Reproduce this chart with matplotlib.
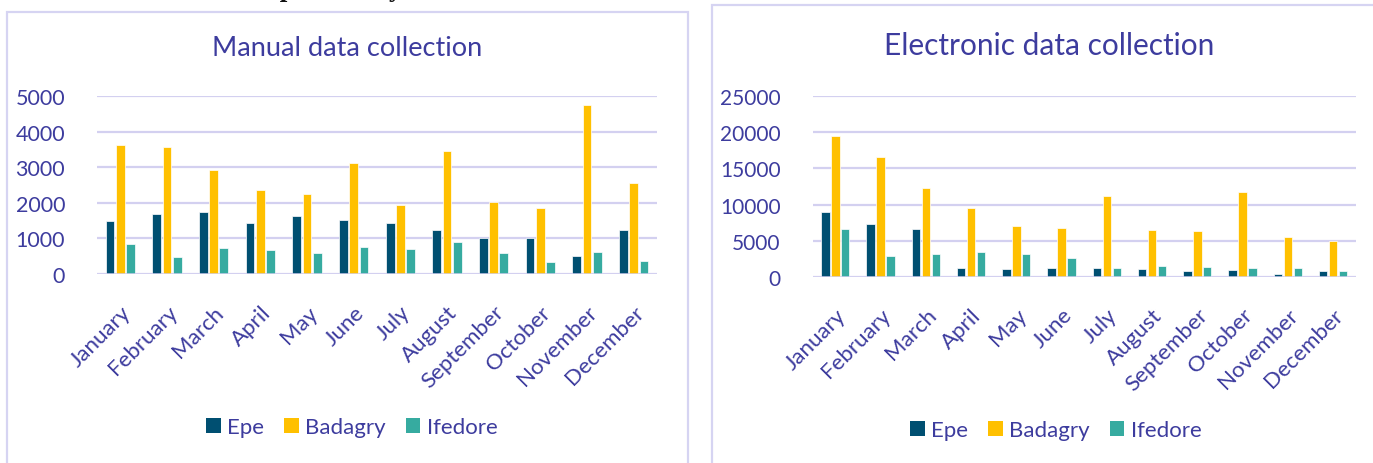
import numpy as np
import matplotlib
matplotlib.use("Agg")
import matplotlib.pyplot as plt
from matplotlib.patches import Rectangle, Patch

months = ["January", "February", "March", "April", "May", "June", "July",
          "August", "September", "October", "November", "December"]
sites = ["Epe", "Badagry", "Ifedore"]

# manual collection counts per month
manual_epe = [1500, 1690, 1740, 1440, 1630, 1520, 1440, 1240, 1010, 1015, 510, 1230]
manual_badagry = [3610, 3570, 2910, 2350, 2245, 3130, 1925, 3445, 2020, 1860, 4750, 2565]
manual_ifedore = [855, 470, 735, 675, 585, 750, 695, 890, 585, 350, 610, 375]

# electronic collection counts per month
elec_epe = [8900, 7260, 6570, 1210, 1070, 1210, 1150, 1070, 750, 930, 420, 750]
elec_badagry = [19500, 16620, 12290, 9520, 7020, 6750, 11220, 6470, 6290, 11690, 5540, 4900]
elec_ifedore = [6610, 2910, 3100, 3460, 3100, 2590, 1210, 1440, 1340, 1250, 1250, 790]

colors = ["#004f71", "#ffc000", "#36aba0"]
txt = "#3d3c9e"
grid_c = "#d3d0f0"
frame_c = "#d6d4f2"

plt.rcParams["font.family"] = ["Lato", "DejaVu Sans"]

fig = plt.figure(figsize=(13.73, 4.64), dpi=100)
W, H = 1373, 464


def fx(px):
    return px / W


def fy(py):
    return 1 - py / H


# panel frames
fig.patches.append(Rectangle((fx(7), fy(470)), fx(681), fy(13) - fy(470),
                             transform=fig.transFigure, fill=False,
                             edgecolor=frame_c, lw=1.6))
fig.patches.append(Rectangle((fx(712), fy(470)), fx(670), fy(6) - fy(470),
                             transform=fig.transFigure, fill=False,
                             edgecolor=frame_c, lw=1.6))

# heading from the page above, mostly cut off
fig.text(fx(224), fy(-4), "Comparison by", fontfamily="Liberation Serif",
         fontweight="bold", fontsize=19.5, va="baseline", ha="left", color="#111111")


def panel(rect, data, ymax, step, title, title_size, title_xy, leg_xy, barw, ysize):
    ax = fig.add_axes(rect)
    x = np.arange(len(months))
    offs = [-0.22, 0, 0.22]
    for i, vals in enumerate(data):
        ax.bar(x + offs[i], vals, width=barw, color=colors[i],
               edgecolor="white", linewidth=0.5, zorder=3, label=sites[i])
    ax.set_xlim(-0.5, len(months) - 0.5)
    ax.set_ylim(0, ymax)
    ax.set_yticks(np.arange(0, ymax + 1, step))
    ax.grid(axis="y", color=grid_c, lw=1.6, zorder=0)
    ax.axhline(0, color=grid_c, lw=1.8, zorder=4)
    for s in ax.spines.values():
        s.set_visible(False)
    ax.tick_params(axis="both", length=0, colors=txt)
    ax.tick_params(axis="y", pad=23, labelsize=ysize)
    ax.tick_params(axis="x", pad=20, labelsize=16)
    ax.set_xticks(x)
    ax.set_xticklabels(months, rotation=45, ha="right", va="top",
                       rotation_mode="anchor")
    fig.text(title_xy[0], title_xy[1], title, ha="center", va="center",
             fontsize=title_size, color=txt)
    handles = [Patch(facecolor=c, label=s) for c, s in zip(colors, sites)]
    fig.legend(handles=handles, loc="center", bbox_to_anchor=leg_xy, ncol=3,
               frameon=False, fontsize=16, labelcolor=txt, handlelength=0.65,
               handleheight=0.65, handletextpad=0.3, columnspacing=0.9)
    return ax


panel([fx(97), fy(275), fx(657 - 97), fy(97) - fy(275)],
      [manual_epe, manual_badagry, manual_ifedore], 5000, 1000,
      "Manual data collection", 19.5, (fx(347), fy(48)), (fx(352), fy(428)), 0.19, 15.5)
panel([fx(812.7), fy(277.7), fx(1355.7 - 812.7), fy(97.3) - fy(277.7)],
      [elec_epe, elec_badagry, elec_ifedore], 25000, 5000,
      "Electronic data collection", 21.5, (fx(1049), fy(46)), (fx(1056), fy(431)), 0.185, 15)

fig.savefig("out.png", dpi=100)
